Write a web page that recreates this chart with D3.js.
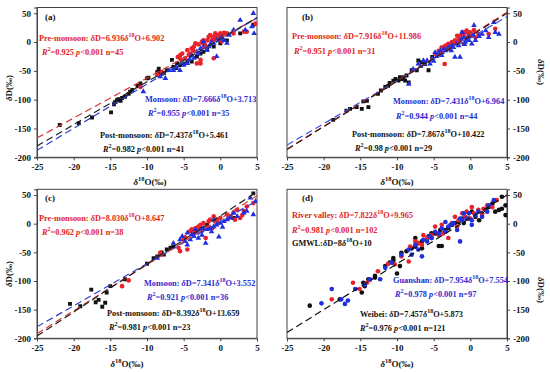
<!DOCTYPE html>
<html><head><meta charset="utf-8">
<script src="https://cdn.jsdelivr.net/npm/d3@7"></script>
<style>
body{margin:0;background:#fff;}
svg text{font-family:"Liberation Serif","Times New Roman",serif;font-weight:bold;}
</style></head>
<body><svg id="c" width="550" height="372"></svg>
<script>
// ---------- data ----------
const xTicks = [-25,-20,-15,-10,-5,0,5];
const yTicks = [-200,-150,-100,-50,0,50];

// Panel (a)
const aPost = [[-21.9,-144],[-19.3,-141],[-17.5,-131],[-14.9,-122],[-14.5,-108],[-14.1,-101],[-13.9,-99],[-13.6,-102],[-13.0,-95],[-12.5,-90],[-12.3,-86],[-12.0,-83],[-11.3,-76],[-10.9,-72],[-10.0,-63],[-8.6,-52],[-8.4,-46],[-8.2,-52],[-7.7,-54],[-7.3,-49],[-6.4,-43],[-5.9,-37],[-5.5,-40],[-6.6,-31],[-3.9,-34],[-3.2,-25],[-2.7,-20],[-2.3,-17],[-1.8,-13],[-0.9,-8],[0,-2],[0.9,3],[2.7,15],[4.5,30],[-14.3,-104],[-13.4,-97],[-8.0,-55],[-5.0,-38],[-4.5,-33],[-6.0,-45],[-9.8,-62]];
const aPre = [[-10.9,-78],[-8.6,-57],[-8.0,-52],[-5.5,-23],[-5.2,-20],[-4.8,-28],[-3.9,-11],[-3.6,-8],[-3.4,-2],[-3.2,-37],[-2.7,-37],[-2.5,1],[-2.3,3],[-2.0,-8],[-1.6,9],[-1.4,12],[-0.9,5],[-0.7,15],[-0.5,6],[-0.2,9],[0,15],[0.2,1],[-0.9,-28],[-2.7,-31],[1.8,15],[3.2,18],[3.6,18],[4.8,32],[-4.5,-14],[-4.1,-20],[-1.8,3],[0.9,15],[-5.8,-26],[-3.0,-4],[-1.2,2],[-0.3,12],[0.5,16],[-4.3,-22],[-2.1,-5],[-1.0,9],[-5.4,-30],[-3.7,-14],[-2.4,-2],[-0.6,10],[0.3,13]];
const aMon = [[-10.5,-86],[-8.2,-60],[-7.5,-63],[-7.0,-49],[-6.4,-49],[-5.5,-49],[-4.5,-37],[-3.9,-23],[-3.6,-28],[-3.2,-17],[-2.7,-11],[-2.3,-8],[-1.8,-14],[-1.4,-5],[-0.9,-2],[-0.5,3],[0,6],[0.5,3],[0.9,-2],[1.8,21],[2.7,38],[3.4,21],[4.5,50],[4.3,27],[4.6,15],[-0.5,-25],[-2.3,1],[-4.2,-30],[-3.0,-20],[-1.2,0],[0.2,8],[-6.0,-44],[-5.0,-40],[-1.6,-8],[1.2,12]];

// Panel (b)
const bPost = [[-18.7,-135],[-16.4,-116],[-15.5,-113],[-14.8,-116],[-14.6,-103],[-14.1,-102],[-13.9,-113],[-12.6,-90],[-12.2,-84],[-11.2,-76],[-10.5,-67],[-10.2,-64],[-9.8,-67],[-9.6,-61],[-9.4,-64],[-9.1,-61],[-8.7,-58],[-8.0,-49],[-7.3,-49],[-7.1,-32],[-6.6,-35],[-6.2,-38],[-5.7,-49],[-5.2,-26],[-8.4,-70],[-16.9,-119],[-11.0,-71],[-8.9,-67],[-11.6,-78]];
const bPre = [[-3.5,-38],[-4.8,-20],[-4.3,-15],[-3.9,-9],[-3.4,-6],[-3.0,-3],[-2.5,0],[-2.1,3],[-1.8,0],[-1.6,5],[-1.4,11],[-1.1,17],[-0.9,14],[-0.7,17],[-0.5,20],[-0.2,14],[0,17],[0.2,11],[0.5,21],[0.7,8],[1.1,14],[2.5,14],[3.4,23],[-1.4,3],[-3.9,-18],[-2.7,-3],[-0.9,-3],[-1.8,11],[-0.5,8],[-3.2,-12],[-2.3,-2]];
const bMon = [[-8.4,-73],[-7.8,-47],[-7.1,-38],[-6.4,-32],[-5.9,-32],[-5.5,-38],[-4.8,-18],[-4.3,-20],[-4.1,-15],[-3.9,-23],[-3.4,-15],[-3.0,-9],[-2.5,-6],[-2.1,-26],[-1.4,-26],[-1.1,17],[-0.9,8],[-0.7,0],[-0.5,5],[-0.2,3],[0.2,-3],[0.5,29],[0.7,3],[1.6,14],[2.1,20],[3.2,34],[3.4,17],[3.9,14],[2.5,8],[-1.6,-6],[-2.3,-9],[-5.2,-29],[-4.6,-25],[-3.6,-12],[-2.8,-12],[-1.9,-3],[-1.2,5],[-0.3,9],[0.4,12],[1.2,10],[-6.8,-42],[-5.0,-33],[-2.6,-15],[-0.8,-4]];

// Panel (c)
const cPost = [[-20.5,-140],[-19.1,-144],[-17.6,-115],[-17.0,-137],[-16.6,-133],[-16.1,-145],[-15.7,-138],[-15.5,-120],[-15.0,-109],[-13.0,-97],[-10.0,-70],[-9.1,-60],[-8.6,-57],[-8.2,-54],[-8.0,-50],[-7.7,-54],[-7.3,-45],[-6.8,-42],[-6.4,-40],[-2.7,-8],[-1.8,-2],[4.5,53],[1.8,10]];
const cPre = [[-13.4,-109],[-12.5,-99],[-8.2,-51],[-5.7,-42],[-5.5,-48],[-4.5,-45],[-4.1,-13],[-3.9,-10],[-3.6,-16],[-3.4,-8],[-3.2,-10],[-2.7,-2],[-2.3,1],[-2.0,-25],[-1.8,-5],[-1.4,7],[-0.9,13],[-0.7,4],[-0.5,7],[0,10],[0.9,16],[1.4,13],[1.8,19],[2.3,24],[2.7,10],[3.2,22],[3.6,30],[4.5,36],[-5.0,-28],[-3.0,-5],[-1.6,4],[-1.1,-8],[2.0,7],[-4.8,-24],[-2.5,-12],[-0.3,2],[1.1,9],[3.0,15]];
const cMon = [[-8.6,-60],[-6.4,-34],[-5.5,-28],[-5.2,-22],[-4.8,-31],[-4.5,-37],[-4.1,-28],[-3.9,-19],[-3.6,-22],[-3.2,-16],[-2.7,-13],[-2.3,-8],[-2.0,-34],[-1.8,-10],[-1.4,-8],[-0.9,-5],[-0.5,-2],[-0.2,-23],[0,1],[0.5,4],[0.9,7],[1.4,10],[1.8,19],[3.2,19],[4.1,45],[4.5,16],[4.8,39],[-3.4,-10],[-3.0,-25],[-0.9,7],[-4.5,-16],[2.3,13],[-1.2,-14],[0.3,-6],[-2.5,-20],[3.6,22]];

// Panel (d)
const dWeibei = [[-21.9,-143],[-17.8,-132],[-14.8,-120],[-14.6,-103],[-13.9,-97],[-13.0,-91],[-11.6,-74],[-11.0,-68],[-10.5,-60],[-10.0,-87],[-9.4,-51],[-8.7,-48],[-8.0,-43],[-7.5,-40],[-6.6,-31],[-5.7,-22],[-5.3,-25],[-4.8,-17],[-4.3,-39],[-3.9,-39],[-3.4,-11],[-2.5,-2],[-1.6,3],[-0.9,1],[-0.2,9],[0.7,12],[1.6,18],[2.5,29],[3.0,35],[3.4,21],[3.9,24],[4.3,47],[4.8,15],[4.8,32],[4.3,26],[-6.6,-43],[-9.6,-74],[-10.5,-64],[-13.0,-94],[-14.4,-109],[-7.5,-25],[-7.1,-34],[-3.0,-8],[-2.1,1],[1.2,6],[2.1,24],[-4.1,-11],[-5.3,-17],[-1.1,9],[0.2,21]];
const dRiver = [[-18.9,-132],[-16.0,-103],[-15.1,-114],[-14.1,-103],[-13.7,-98],[-12.6,-83],[-11.2,-70],[-10.3,-71],[-9.4,-57],[-8.4,-66],[-8.2,-40],[-7.1,-34],[-6.6,-37],[-5.9,-25],[-5.3,-20],[-4.8,-5],[-4.3,-20],[-3.9,-2],[-3.0,-25],[-2.5,1],[-2.1,12],[-1.6,6],[-1.1,18],[-0.7,12],[-0.5,21],[0.2,29],[0.5,18],[1.1,24],[1.6,15],[2.3,32],[3.0,29],[3.6,41],[-7.5,-31],[-6.4,-20],[-3.7,-17],[-1.8,-5],[0,9],[1.8,26]];
const dGuan = [[-20.3,-139],[-18.9,-114],[-17.6,-132],[-17.1,-140],[-16.7,-134],[-15.7,-114],[-14.4,-107],[-13.7,-97],[-12.3,-97],[-11.6,-77],[-10.7,-68],[-9.4,-54],[-8.4,-45],[-8.0,-54],[-7.5,-37],[-7.1,-45],[-6.4,-28],[-5.9,-31],[-5.5,-22],[-4.8,-14],[-4.3,-17],[-3.9,-8],[-3.4,-14],[-3.0,-5],[-2.3,1],[-1.8,-11],[-1.4,-31],[-1.1,6],[-0.5,9],[0.2,6],[0.7,15],[1.1,21],[1.6,12],[2.5,32],[3.2,41],[-6.6,-57],[-5.3,-25],[-3.4,3],[-2.7,-2],[-1.4,9],[-0.2,18],[0.2,-2],[2.3,21],[-0.9,18]];

// regression / reference lines: [slope, intercept]
const aLines = {pre:[6.936,6.902], mon:[7.666,3.713], post:[7.437,5.461]};
const bLines = {pre:[7.916,11.986], mon:[7.431,6.964], post:[7.867,10.422]};
const cLines = {pre:[8.030,8.647], mon:[7.341,3.552], post:[8.392,13.659]};
const gmwl = [8,10];

// ---------- drawing ----------
const RED="#e8232b", BLUE="#1f2fe0", BLACK="#111", TRED="#e01e1e", TBLUE="#2a2ad0";
const svg = d3.select("#c");

const panels = [
 {id:"(a)", x0:37, x1:257, yTop:7.5, yB:157.3, side:"left", ytx:12, yty:88, xtx:150, xty:185,
  sets:[{d:aPost,t:"sq",c:BLACK},{d:aPre,t:"ci",c:RED},{d:aMon,t:"tr",c:BLUE}],
  lines:[[aLines.pre,"#d23a3a"],[aLines.mon,"#3040d0"],[aLines.post,"#222"]]},
 {id:"(b)", x0:287, x1:507, yTop:7.5, yB:157.3, side:"right", ytx:538, yty:72, xtx:397, xty:185,
  sets:[{d:bPost,t:"sq",c:BLACK},{d:bPre,t:"ci",c:RED},{d:bMon,t:"tr",c:BLUE}],
  lines:[[bLines.mon,"#3a4fe0"],[bLines.pre,"#c03030"],[bLines.post,"#3a1a1a"]]},
 {id:"(c)", x0:37, x1:257, yTop:189.3, yB:338.3, side:"left", ytx:12, yty:274, xtx:127, xty:367,
  sets:[{d:cPost,t:"sq",c:BLACK},{d:cPre,t:"ci",c:RED},{d:cMon,t:"tr",c:BLUE}],
  lines:[[cLines.mon,"#3040d0"],[cLines.pre,"#d23a3a"],[cLines.post,"#222"]]},
 {id:"(d)", x0:287, x1:507, yTop:189.3, yB:338.3, side:"right", ytx:538, yty:290, xtx:397, xty:367,
  sets:[{d:dWeibei,t:"ci",c:BLACK},{d:dRiver,t:"ci",c:RED},{d:dGuan,t:"ci",c:BLUE}],
  lines:[[gmwl,"#111"]]}
];

function richText(g, x, y, segs, color, size){
  const t = g.append("text").attr("x",x).attr("y",y).attr("fill",color).attr("font-size",size);
  let pending = 0;
  segs.forEach(s=>{
    const sp = t.append("tspan").text(s.t);
    if (s.sup){
      sp.attr("dy",-size*0.45 + pending).attr("font-size",size*0.72);
      pending = size*0.45;
    } else {
      if (pending) { sp.attr("dy",pending); pending = 0; }
      if (s.i) sp.attr("font-style","italic");
    }
  });
  return t;
}
function eq(name, m, b){
  return [{t:name+" "},{t:"δ",i:true},{t:"D="+m},{t:"δ",i:true},{t:"18",sup:true},{t:"O+"+b}];
}
function stat(r2, n, sep){
  sep = sep || "  ";
  return [{t:"R",i:true},{t:"2",sup:true},{t:"=" + r2 + sep},{t:"p",i:true},{t:"<0.001" + sep + "n=" + n}];
}

panels.forEach((P,pi)=>{
  const g = svg.append("g");
  const x = d3.scaleLinear().domain([-25,5]).range([P.x0,P.x1]);
  const y = d3.scaleLinear().domain([-200,60]).range([P.yB,P.yTop]);
  const clipId = "clip"+pi;
  g.append("clipPath").attr("id",clipId).append("rect")
    .attr("x",P.x0).attr("y",P.yTop).attr("width",P.x1-P.x0).attr("height",P.yB-P.yTop);

  // frame
  g.append("rect").attr("x",P.x0).attr("y",P.yTop).attr("width",P.x1-P.x0).attr("height",P.yB-P.yTop)
    .attr("fill","none").attr("stroke","#444").attr("stroke-width",1);

  // axes
  const xa = g.append("g").attr("transform",`translate(0,${P.yB})`)
    .call(d3.axisBottom(x).tickValues(xTicks).tickSize(3).tickPadding(3).tickFormat(d=>d<0?"-"+Math.abs(d):String(d)));
  const yAxisGen = (P.side==="left"?d3.axisLeft(y):d3.axisRight(y)).tickValues(yTicks).tickSize(3).tickPadding(3)
      .tickFormat(d=>d<0?"-"+Math.abs(d):String(d));
  const ya = g.append("g").attr("transform",`translate(${P.side==="left"?P.x0:P.x1},0)`).call(yAxisGen);
  [xa,ya].forEach(a=>{
    a.selectAll("path").attr("stroke","#444");
    a.selectAll("line").attr("stroke","#444");
    a.selectAll("text").attr("font-size",9).attr("fill","#111")
      .attr("font-family",'"Liberation Serif",serif').attr("font-weight","bold");
  });

  // points
  const pg = g.append("g").attr("clip-path",`url(#${clipId})`);
  P.sets.forEach(S=>{
    let sym;
    if (S.t==="ci") sym = d3.symbol().type(d3.symbolCircle).size(17);
    else if (S.t==="sq") sym = d3.symbol().type(d3.symbolSquare).size(15);
    else sym = d3.symbol().type(d3.symbolTriangle).size(14);
    pg.selectAll(null).data(S.d).enter().append("path")
      .attr("d",sym).attr("transform",d=>`translate(${x(d[0])},${y(d[1])})`)
      .attr("fill",S.c);
  });

  // dashed lines
  const lg = g.append("g").attr("clip-path",`url(#${clipId})`);
  P.lines.forEach(L=>{
    const [m,b]=L[0];
    lg.append("line").attr("x1",x(-25)).attr("y1",y(m*-25+b)).attr("x2",x(5)).attr("y2",y(m*5+b))
      .attr("stroke",L[1]).attr("stroke-width",1.2).attr("stroke-dasharray","7,4");
  });

  // axis titles
  const xt = richText(g, P.xtx, P.xty, [{t:"δ",i:true},{t:"18",sup:true},{t:"O(‰)"}], "#111", 9);
  xt.attr("text-anchor","middle");
  const yt = g.append("text").attr("transform",`translate(${P.ytx},${P.yty}) rotate(${P.side==="left"?-90:90})`)
    .attr("text-anchor","middle").attr("font-size",9).attr("fill","#111");
  yt.append("tspan").attr("font-style","italic").text("δ");
  yt.append("tspan").text("D(‰)");

  // panel label
  g.append("text").attr("x",P.x0+(P.side==="left"?8:15)).attr("y",P.yTop+12).attr("font-size",9).attr("fill","#111").text(P.id);
});

const FS = 8.3;
// (a)
richText(svg,39,41,eq("Pre-monsoon:","6.936","6.902"),TRED,FS);
richText(svg,42,55,stat("0.925",45),TRED,FS);
richText(svg,145,102,eq("Monsoon:","7.666","3.713"),TBLUE,FS);
richText(svg,148,116,stat("0.955",35),TBLUE,FS);
richText(svg,100,138,eq("Post-monsoon:","7.437","5.461"),BLACK,FS);
richText(svg,103,152,stat("0.982",41),BLACK,FS);
// (b)
richText(svg,292,39,eq("Pre-monsoon:","7.916","11.986"),TRED,FS);
richText(svg,294,54,stat("0.951",31),TRED,FS);
richText(svg,393,104,eq("Monsoon:","7.431","6.964"),TBLUE,FS);
richText(svg,396,119,stat("0.944",44),TBLUE,FS);
richText(svg,352,137,eq("Post-monsoon:","7.867","10.422"),BLACK,FS);
richText(svg,355,151,stat("0.98",29),BLACK,FS);
// (c)
richText(svg,39,221,eq("Pre-monsoon:","8.030","8.647"),TRED,FS);
richText(svg,42,235,stat("0.962",38),TRED,FS);
richText(svg,144,286,eq("Monsoon:","7.341","3.552"),TBLUE,FS);
richText(svg,147,300,stat("0.921",36),TBLUE,FS);
richText(svg,107,316,eq("Post-monsoon:","8.392","13.659"),BLACK,FS);
richText(svg,109,330,stat("0.981",23),BLACK,FS);
// (d)
richText(svg,292,218,eq("River valley:","7.822","9.965"),TRED,FS);
richText(svg,292,233,stat("0.981",102," "),TRED,FS);
richText(svg,292,246,[{t:"GMWL:"},{t:"δ",i:true},{t:"D=8"},{t:"δ",i:true},{t:"18",sup:true},{t:"O+10"}],BLACK,FS);
richText(svg,393,283,eq("Guanshan:","7.954","7.554"),TBLUE,FS);
richText(svg,395,297,stat("0.978",97," "),TBLUE,FS);
richText(svg,360,317,eq("Weibei:","7.457","5.873"),BLACK,FS);
richText(svg,360,331,stat("0.976",121," "),BLACK,FS);
</script></body></html>
